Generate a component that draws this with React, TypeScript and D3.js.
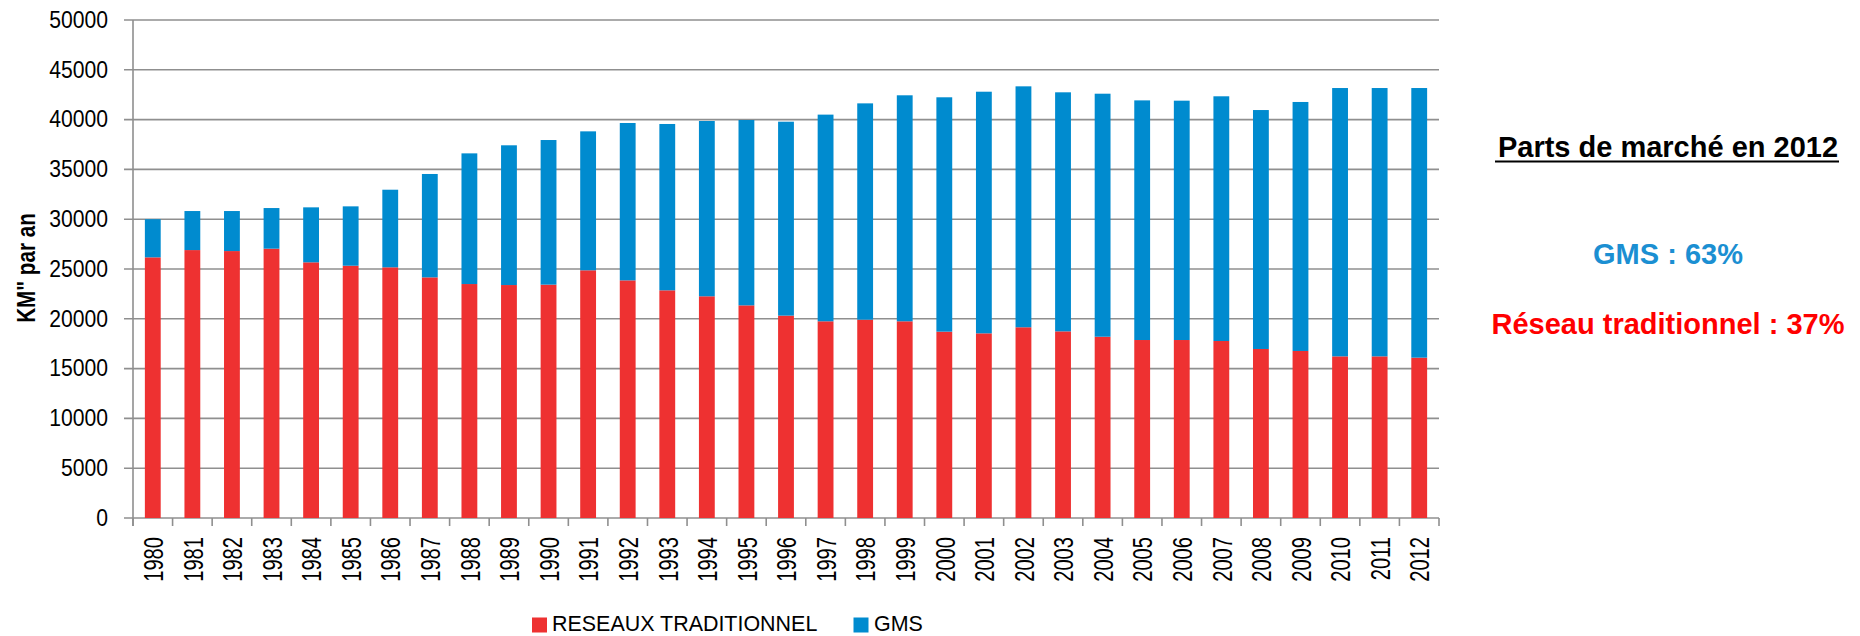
import React from "react";
import * as d3 from "d3";

const years = ["1980","1981","1982","1983","1984","1985","1986","1987","1988","1989","1990","1991","1992","1993","1994","1995","1996","1997","1998","1999","2000","2001","2002","2003","2004","2005","2006","2007","2008","2009","2010","2011","2012"];
const reseaux = [26170,26900,26800,27040,25670,25330,25170,24160,23490,23390,23430,24870,23860,22860,22260,21350,20320,19750,19910,19750,18710,18540,19150,18740,18200,17870,17870,17770,16970,16770,16230,16230,16100];
const gms = [3830,3920,4020,4080,5520,5960,7790,10380,13120,14030,14520,13950,15800,16700,17600,18610,19470,20750,21720,22690,23530,24260,24190,24000,24400,24060,24030,24570,23990,25000,26940,26940,27070];
const yTicks = [0,5000,10000,15000,20000,25000,30000,35000,40000,45000,50000];
const seriesNames = ["RESEAUX TRADITIONNEL","GMS"];
const seriesColors = ["#EE3131","#008BCF"];

const W = 1860, H = 636;
const left = 133, right = 1439, top = 20, bottom = 518;
const FONT = "'Liberation Sans', Arial, sans-serif";

export default function App() {
  const x = d3.scaleBand<string>().domain(years).range([left, right]).paddingInner(0.6).paddingOuter(0.3);
  const y = d3.scaleLinear().domain([0, 50000]).range([bottom, top]);
  const rows = years.map((yr, i) => ({ year: yr, r: reseaux[i], g: gms[i] }));
  const stack = d3.stack<any>().keys(["r", "g"])(rows);
  const step = x.step();
  const grid = "#8f8f8f";

  return (
    <svg width={W} height={H} style={{ position: "absolute", left: 0, top: 0, background: "#fff" }} fontFamily={FONT}>
      {yTicks.map(t => (
        <g key={t}>
          <line x1={left - 9} x2={right} y1={y(t)} y2={y(t)} stroke={grid} strokeWidth={1.6} />
          <text transform={`translate(${108},${y(t)}) scale(0.9,1)`} textAnchor="end" dominantBaseline="central" fontSize={23.5} fill="#000">{t}</text>
        </g>
      ))}
      <line x1={left} x2={left} y1={top} y2={bottom + 8} stroke={grid} strokeWidth={1.6} />
      {years.map((yr, i) => (
        <line key={"t" + yr} x1={left + i * step} x2={left + i * step} y1={bottom} y2={bottom + 8} stroke={grid} strokeWidth={1.6} />
      ))}
      <line x1={right} x2={right} y1={bottom} y2={bottom + 8} stroke={grid} strokeWidth={1.6} />
      {stack.map((s, si) => (
        <g key={si} fill={seriesColors[si]}>
          {s.map((d: any) => (
            <rect key={d.data.year} x={x(d.data.year)} width={x.bandwidth()} y={y(d[1])} height={y(d[0]) - y(d[1])} />
          ))}
        </g>
      ))}
      {years.map(yr => (
        <text key={"l" + yr} transform={`translate(${(x(yr) as number) + x.bandwidth() / 2 + 0.5},537) rotate(-90) scale(0.72,1)`} textAnchor="end" dominantBaseline="central" fontSize={28} fill="#000">{yr}</text>
      ))}
      <text transform={`translate(26,268) rotate(-90) scale(0.78,1)`} textAnchor="middle" dominantBaseline="central" fontSize={26.5} fontWeight="bold" fill="#000">KM" par an</text>
      <rect x={532} y={617.5} width={15} height={15} fill={seriesColors[0]} />
      <text transform={`translate(552,631) scale(0.975,1)`} fontSize={22} fill="#000">{seriesNames[0]}</text>
      <rect x={853.5} y={617.5} width={15} height={15} fill={seriesColors[1]} />
      <text transform={`translate(874,631) scale(0.975,1)`} fontSize={22} fill="#000">{seriesNames[1]}</text>
      <text x={1668} y={157} textAnchor="middle" fontSize={29} fontWeight="bold" fill="#000">Parts de marché en 2012</text>
      <line x1={1495} x2={1839} y1={161.5} y2={161.5} stroke="#000" strokeWidth={2.2} />
      <text x={1668} y={263.5} textAnchor="middle" fontSize={29} fontWeight="bold" fill="#1B8FD2">GMS : 63%</text>
      <text x={1668} y={333.5} textAnchor="middle" fontSize={29} fontWeight="bold" fill="#FF0000">Réseau traditionnel : 37%</text>
    </svg>
  );
}
